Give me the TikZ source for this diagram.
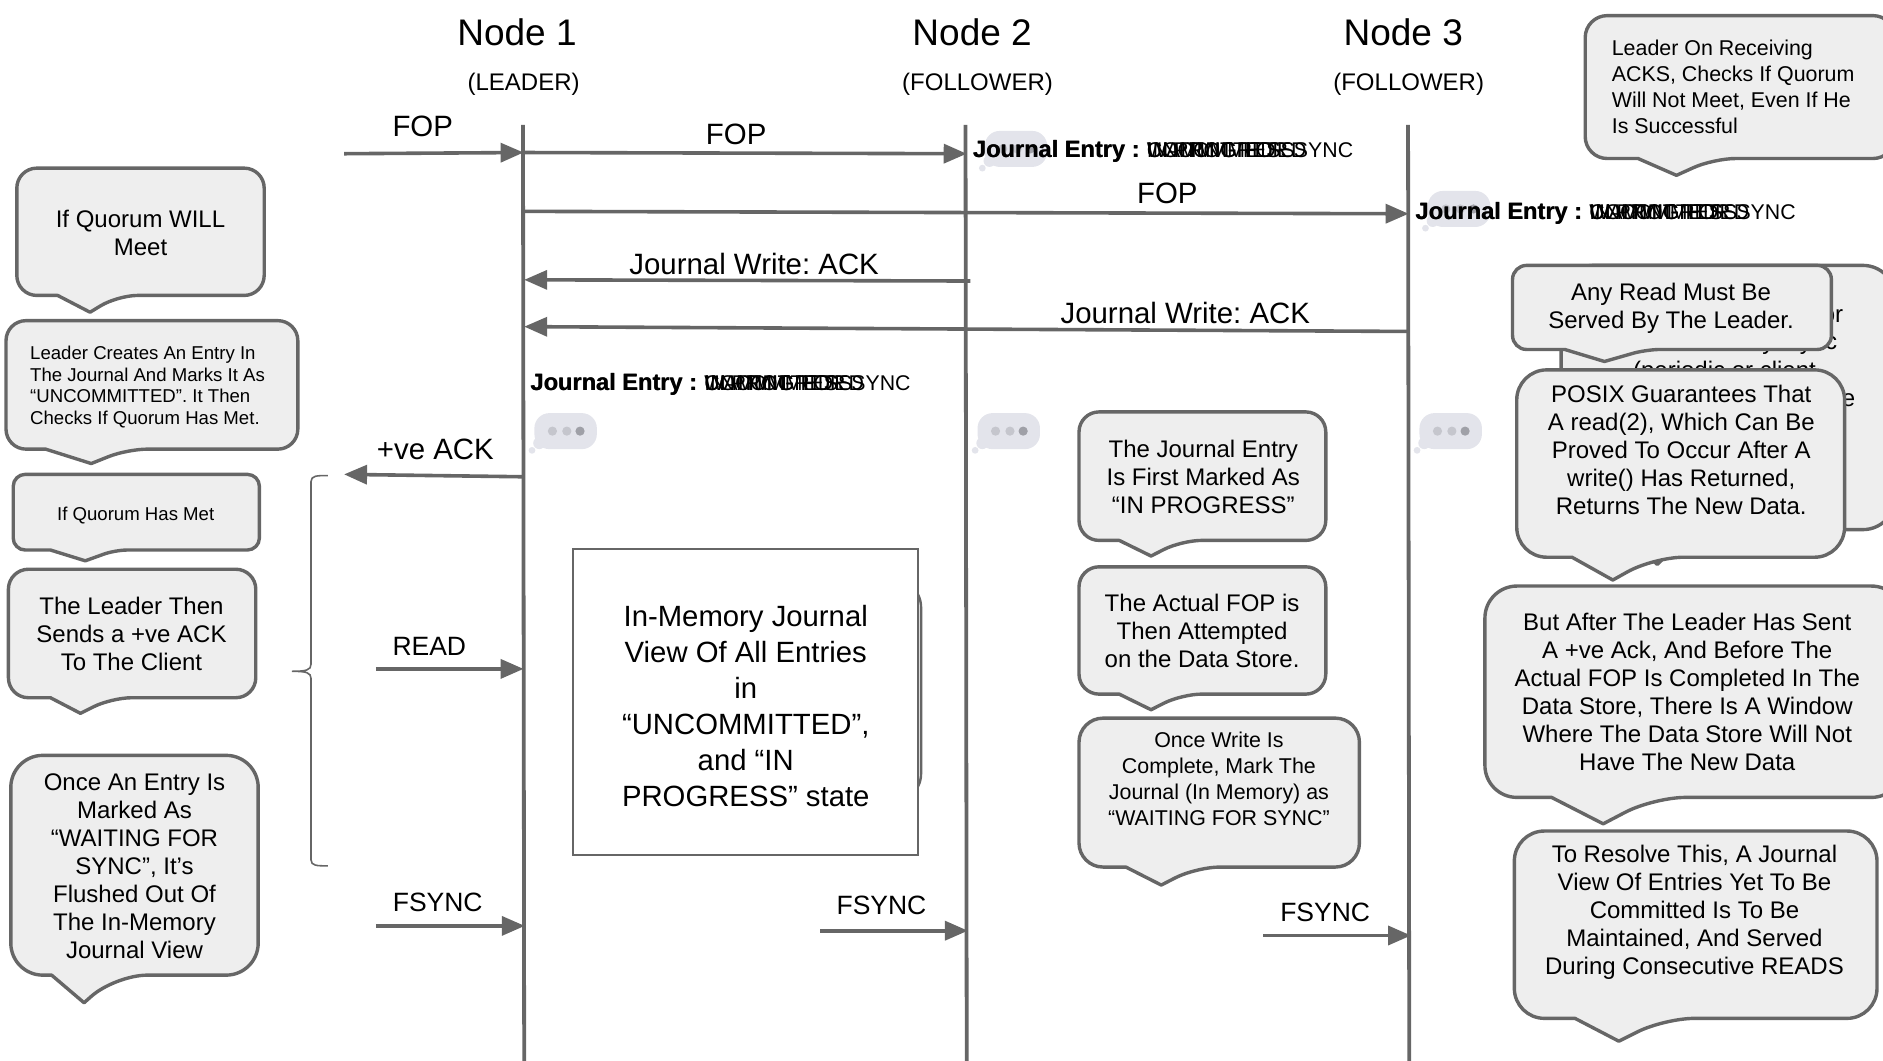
\documentclass[tikz,border=0pt]{standalone}
\usepackage{fontspec}
\setmainfont{Liberation Sans}
\usetikzlibrary{arrows.meta}
\frenchspacing
\definecolor{ln}{HTML}{666666}
\definecolor{bub}{HTML}{EEEEEE}
\definecolor{chat}{HTML}{E3E4EB}
\definecolor{dota}{HTML}{C5C6CD}
\definecolor{dotb}{HTML}{9FA0A7}
\tikzset{
  calloutbox/.style={draw=ln,fill=bub,line width=3.4pt,line join=round},
  lifeline/.style={draw=ln,line width=3.8pt},
  msg/.style={draw=ln,line width=3.6pt,-{Triangle[length=23pt,width=19pt]}},
  ttext/.style={inner sep=0pt,align=center,text=black},
  fa/.style={ttext,font=\fontsize{24}{28}\selectfont},
  fb/.style={ttext,font=\fontsize{18.6}{21.8}\selectfont},
  fc/.style={ttext,font=\fontsize{21.4}{26}\selectfont},
  fd/.style={ttext,font=\fontsize{29.4}{35}\selectfont},
  fg/.style={ttext,font=\fontsize{26.5}{32}\selectfont},
  fe/.style={ttext,font=\fontsize{37}{44}\selectfont},
  ff/.style={ttext,font=\fontsize{29.3}{36}\selectfont},
}
\newcommand{\callout}[9]{% x1 y1 x2 y2 r tl tx tr ty
  \path[calloutbox,rounded corners=#5pt] (#6,#4) -- (#1,#4) -- (#1,#2) -- (#3,#2) -- (#3,#4) -- (#8,#4) [sharp corners] -- (#7,#9) -- cycle;}
\newcommand{\chatbub}[3]{% name cx cy
  \begin{scope}[shift={(#2,#3)}]
    \fill[chat,rounded corners=15pt] (-26,-15) rectangle (26,15);
    \fill[chat] (-22,10) circle[radius=6pt];
    \fill[chat] (-28,16) circle[radius=3.4pt];
    \fill[dota] (-11,0) circle[radius=4.6pt];
    \fill[dota] (1,0) circle[radius=4.6pt];
    \fill[dotb] (12,0) circle[radius=4.6pt];
  \end{scope}}
\newcommand{\jbold}{\textbf{\fontsize{23.6}{26}\selectfont Journal Entry :}}
\newcommand{\journal}[3]{% name x y
  \node[inner sep=0pt,anchor=west,font=\fontsize{21.3}{26}\selectfont] (#1) at (#2,#3)
    {\rlap{\hspace{.5pt}\jbold}\jbold\hspace{7.4pt}\rlap{UNCOMMITTED}\rlap{IN PROGRESS}\rlap{COMMITTED}\rlap{WAITING FOR SYNC}};}
\begin{document}
\begin{tikzpicture}[x=1.2009pt,y=-1.2009pt]
\useasboundingbox (0,0) rectangle (1568,883.5);
\clip (0,0) rectangle (1568,883.5);
% life lines
\coordinate (l1t) at (435.5,104); \coordinate (l1b) at (436.5,883.5);
\coordinate (l2t) at (804,104);   \coordinate (l2b) at (805,883.5);
\coordinate (l3t) at (1172.5,104);\coordinate (l3b) at (1173.5,883.5);
\path[lifeline] (l1t) -- (l1b);
\path[lifeline] (l2t) -- (l2b);
\path[lifeline] (l3t) -- (l3b);
% headers
\node[fe] (n1) at (430.5,27) {Node 1};
\node[fe] (n2) at (809.5,27) {Node 2};
\node[fe] (n3) at (1168.5,27) {Node 3};
\node[fa] (r1) at (436,70) {(LEADER)};
\node[fa] (r2) at (814,70) {(FOLLOWER)};
\node[fa] (r3) at (1173,70) {(FOLLOWER)};
% connector ends
\coordinate (a1s) at (286.5,128);  \coordinate (a1e) at (436,127);
\coordinate (a2s) at (435,127);  \coordinate (a2e) at (805,128);
\coordinate (a3s) at (435,176);  \coordinate (a3e) at (1173,178);
\coordinate (a4s) at (808,234);  \coordinate (a4e) at (436.5,233);
\coordinate (a5s) at (1172,276); \coordinate (a5e) at (436.5,272);
\coordinate (a6s) at (435,397);  \coordinate (a6e) at (286.5,395);
\coordinate (a7s) at (313,557);  \coordinate (a7e) at (436,557);
\coordinate (a8s) at (313,771);  \coordinate (a8e) at (437,771);
\coordinate (a9s) at (683,775);  \coordinate (a9e) at (806,775);
\coordinate (a10s) at (1052,779);\coordinate (a10e) at (1175,779);
\path[msg] (a1s) -- (a1e);
\path[msg] (a2s) -- (a2e);
\path[msg] (a3s) -- (a3e);
\path[msg] (a4s) -- (a4e);
\path[msg] (a5s) -- (a5e);
\path[msg] (a6s) -- (a6e);
\path[msg] (a7s) -- (a7e);
\path[msg] (a8s) -- (a8e);
\path[msg] (a9s) -- (a9e);
\path[msg] (a10s) -- (a10e);
\node[fd] (t1) at (352,105) {FOP};
\node[fd] (t2) at (613,112) {FOP};
\node[fd] (t3) at (972,161) {FOP};
\node[fd] (t4) at (628,220) {Journal Write: ACK};
\node[fd] (t5) at (987,261) {Journal Write: ACK};
\node[fd] (t6) at (362.5,374) {+ve ACK};
\node[fg] (t7) at (357.5,538) {READ};
\node[fg] (t8) at (364.5,751) {FSYNC};
\node[fg] (t9) at (734,754) {FSYNC};
\node[fg] (t10) at (1103.5,760) {FSYNC};
% chat bubbles
\chatbub{c1}{846}{124}
\chatbub{c2}{1215}{174}
\chatbub{c3}{471}{359}
\chatbub{c4}{840}{359}
\chatbub{c5}{1208}{359}
\journal{j1}{810}{126}
\journal{j2}{1178.5}{178}
\journal{j3}{441.5}{320}
% brace
\draw[ln,line width=1.6pt] (273,396) .. controls (264,396) and (259,396) .. (259,401) -- (259,553) .. controls (259,558) and (255,559) .. (243,559) .. controls (255,559) and (259,560) .. (259,565) -- (259,716) .. controls (259,721) and (264,721) .. (273,721);
% memory box
\path[draw=ln,fill=bub,line width=2.4pt,rounded corners=30pt] (520,481) rectangle (767,669);
\node[draw=ln,fill=white,line width=1.8pt,minimum width=345.5pt,minimum height=306pt,inner sep=0pt] (mem) at (620.8,584.5) {};
\node[ff] (memt) at (621,588) {In-Memory Journal\\View Of All Entries\\in\\“UNCOMMITTED”,\\and “IN\\PROGRESS” state};
% left callouts
\callout{14}{140}{220}{246}{20}{48}{75}{98}{260}
\node[fa] (ca) at (117,194) {If Quorum WILL\\Meet};
\callout{5}{267}{248}{374}{20}{38}{76}{106}{386}
\node[fb,align=left,anchor=west] (cb) at (25,322.2) {Leader Creates An Entry In\\The Journal And Marks It As\\“UNCOMMITTED”. It Then\\Checks If Quorum Has Met.};
\callout{11}{395}{216}{458}{12}{42}{71}{96}{467}
\node[fb] (cc) at (113,429) {If Quorum Has Met};
\callout{7}{474}{213}{581}{20}{42}{67}{93}{594}
\node[fa] (cd) at (109.5,528) {The Leader Then\\Sends a +ve ACK\\To The Client};
\callout{9}{629}{215}{812}{32}{43}{70}{96}{835}
\node[fa] (ce) at (112,721) {Once An Entry Is\\Marked As\\“WAITING FOR\\SYNC”, It’s\\Flushed Out Of\\The In-Memory\\Journal View};
% middle callouts
\callout{898.5}{343}{1104}{450}{20}{932}{958.5}{984}{463}
\node[fa] (cl) at (1002,397) {The Journal Entry\\Is First Marked As\\“IN PROGRESS”};
\callout{898.5}{472}{1104}{578}{20}{932}{958.5}{984}{591}
\node[fa] (cm) at (1001,525) {The Actual FOP is\\Then Attempted\\on the Data Store.};
\callout{898.5}{598}{1132}{722}{24}{937.5}{967}{996}{737}
\node[fc] (cn) at (1015,648.5) {Once Write Is\\Complete, Mark The\\Journal (In Memory) as\\“WAITING FOR SYNC”};
% right callouts
\callout{1320}{13}{1578}{132}{22}{1364}{1396}{1427}{146}
\node[fc,align=left,anchor=west] (cf) at (1342,72.5) {Leader On Receiving\\ACKS, Checks If Quorum\\Will Not Meet, Even If He\\Is Successful};
\callout{1300}{221}{1578}{441}{32}{1350}{1380}{1410}{470}
\node[fa,anchor=east] (cg1) at (1535,263) {or};
\node[fa,anchor=east] (cg2) at (1530,286) {), followed by fsync};
\node[fa] (cg3) at (1436,310) {(periodic or client};
\node[fa,anchor=east] (cg4) at (1545,333) {e};
\callout{1259.5}{221}{1525}{291}{14}{1303}{1336}{1371}{301}
\node[fa] (ch) at (1391.5,257) {Any Read Must Be\\Served By The Leader.};
\callout{1263}{308}{1536}{464}{30}{1309}{1343}{1377}{483}
\node[fa] (ci) at (1400,375) {POSIX Guarantees That\\A read(2), Which Can Be\\Proved To Occur After A\\write() Has Returned,\\Returns The New Data.};
\callout{1236.5}{488}{1585}{664}{32}{1292}{1335}{1377}{686}
\node[fa] (cj) at (1405,576.5) {But After The Leader Has Sent\\A +ve Ack, And Before The\\Actual FOP Is Completed In The\\Data Store, There Is A Window\\Where The Data Store Will Not\\Have The New Data};
\callout{1261}{692}{1563}{848}{30}{1311.5}{1348}{1386}{867}
\node[fa] (ck) at (1411,759.7) {To Resolve This, A Journal\\View Of Entries Yet To Be\\Committed Is To Be\\Maintained, And Served\\During Consecutive READS};
\end{tikzpicture}
\end{document}
